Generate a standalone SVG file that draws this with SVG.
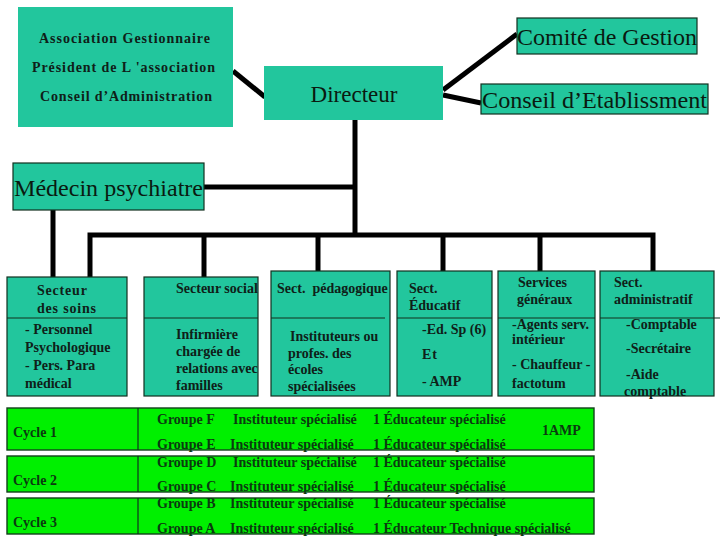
<svg xmlns="http://www.w3.org/2000/svg" width="720" height="540" viewBox="0 0 720 540">
<style>
.teal{fill:#22c69d}
.bord{stroke:#12301f;stroke-width:1.2}
.lime{fill:#00f000;stroke:#12401a;stroke-width:1.4}
.div{stroke:#12301f;stroke-width:1.2;fill:none}
.big{font-family:"Liberation Serif","Times New Roman",serif;font-size:24px;fill:#0a1a10}
.b{font-family:"Liberation Serif","Times New Roman",serif;font-size:14px;font-weight:bold;fill:#0f2018}
.g{font-family:"Liberation Serif","Times New Roman",serif;font-size:14px;font-weight:bold;fill:#0b3a10}
.conn{stroke:#000;stroke-width:5;fill:none;stroke-linejoin:miter}
</style>
<rect width="720" height="540" fill="#fff"/>
<g id="connectors">
<line class="conn" x1="233" y1="71" x2="265" y2="97"/>
<line class="conn" x1="443" y1="90" x2="517" y2="34"/>
<line class="conn" x1="443" y1="95" x2="481" y2="103"/>
<polyline class="conn" points="204,187 355,187"/>
<line class="conn" x1="355" y1="120" x2="355" y2="235"/>
<line class="conn" x1="53" y1="209" x2="53" y2="277"/>
<polyline class="conn" points="90,277 90,235 653,235 653,271"/>
<line class="conn" x1="204" y1="235" x2="204" y2="277"/>
<line class="conn" x1="318" y1="235" x2="318" y2="271"/>
<line class="conn" x1="443" y1="235" x2="443" y2="271"/>
<line class="conn" x1="540" y1="235" x2="540" y2="271"/>
</g>
<g id="association">
<rect class="teal" x="18" y="7" width="215" height="120"/>
<text class="b" x="39" y="43" textLength="171" lengthAdjust="spacing">Association Gestionnaire</text>
<text class="b" x="32" y="72" textLength="183" lengthAdjust="spacing">Président de L 'association</text>
<text class="b" x="40" y="101" textLength="172" lengthAdjust="spacing">Conseil d’Administration</text>
</g>
<g id="directeur">
<rect class="teal" x="264" y="66" width="179" height="54"/>
<text class="big" x="354" y="102" text-anchor="middle" style="font-size:23px">Directeur</text>
</g>
<g id="comite">
<rect class="teal bord" x="517" y="18" width="180" height="36"/>
<text class="big" x="517" y="45" textLength="180" lengthAdjust="spacingAndGlyphs">Comité de Gestion</text>
</g>
<g id="conseil-etab">
<rect class="teal bord" x="481" y="84" width="227" height="30"/>
<text class="big" x="482" y="108" textLength="225" lengthAdjust="spacingAndGlyphs">Conseil d’Etablissment</text>
</g>
<g id="medecin">
<rect class="teal bord" x="13" y="163" width="191" height="47"/>
<text class="big" x="14" y="196" textLength="189" lengthAdjust="spacingAndGlyphs">Médecin psychiatre</text>
</g>
<g id="secteur-soins">
<rect class="teal bord" x="7" y="277" width="120" height="119"/>
<line class="div" x1="7" y1="318" x2="127" y2="318"/>
<text class="b" x="37" y="295" letter-spacing="0.8">Secteur</text>
<text class="b" x="37" y="313" letter-spacing="0.8">des soins</text>
<text class="b" x="25" y="334">- Personnel</text>
<text class="b" x="25" y="352">Psychologique</text>
<text class="b" x="25" y="370">- Pers. Para</text>
<text class="b" x="25" y="388">médical</text>
</g>
<g id="secteur-social">
<rect class="teal bord" x="144" y="277" width="114" height="119"/>
<line class="div" x1="144" y1="318" x2="258" y2="318"/>
<text class="b" x="176" y="293">Secteur social</text>
<text class="b" x="176" y="339">Infirmière</text>
<text class="b" x="176" y="356">chargée de</text>
<text class="b" x="176" y="373">relations avec</text>
<text class="b" x="176" y="390">familles</text>
</g>
<g id="sect-pedagogique">
<rect class="teal bord" x="271" y="271" width="119" height="125"/>
<line class="div" x1="271" y1="318" x2="385" y2="318"/>
<text class="b" x="277" y="293" xml:space="preserve">Sect.  pédagogique</text>
<text class="b" x="290" y="341">Instituteurs ou</text>
<text class="b" x="288" y="358">profes. des</text>
<text class="b" x="288" y="374">écoles</text>
<text class="b" x="288" y="391">spécialisées</text>
</g>
<g id="sect-educatif">
<rect class="teal bord" x="397" y="271" width="95" height="125"/>
<line class="div" x1="397" y1="318" x2="492" y2="318"/>
<text class="b" x="409" y="293">Sect.</text>
<text class="b" x="409" y="310">Éducatif</text>
<text class="b" x="422" y="334">-Ed. Sp (6)</text>
<text class="b" x="422" y="359" letter-spacing="1">Et</text>
<text class="b" x="422" y="386">- AMP</text>
</g>
<g id="services-generaux">
<rect class="teal bord" x="498" y="271" width="97" height="125"/>
<line class="div" x1="498" y1="318" x2="595" y2="318"/>
<text class="b" x="518" y="287">Services</text>
<text class="b" x="517" y="304">généraux</text>
<text class="b" x="512" y="329">-Agents serv.</text>
<text class="b" x="512" y="344">intérieur</text>
<text class="b" x="512" y="369">- Chauffeur -</text>
<text class="b" x="512" y="388">factotum</text>
</g>
<g id="sect-administratif">
<rect class="teal bord" x="600" y="271" width="114" height="125"/>
<line class="div" x1="600" y1="318" x2="720" y2="318"/>
<text class="b" x="614" y="287">Sect.</text>
<text class="b" x="614" y="304">administratif</text>
<text class="b" x="626" y="329">-Comptable</text>
<text class="b" x="626" y="353">-Secrétaire</text>
<text class="b" x="626" y="379">-Aide</text>
<text class="b" x="624" y="396">comptable</text>
</g>
<g id="cycle1">
<rect class="lime" x="7" y="408" width="587" height="42"/>
<line class="div" x1="138" y1="408" x2="138" y2="450"/>
<text class="g" x="13" y="437">Cycle 1</text>
<text class="g" x="157" y="424">Groupe F</text>
<text class="g" x="233" y="424">Instituteur spécialisé</text>
<text class="g" x="373" y="424">1 Éducateur spécialisé</text>
<text class="g" x="542" y="435">1AMP</text>
<text class="g" x="157" y="449">Groupe E</text>
<text class="g" x="230" y="449">Instituteur spécialisé</text>
<text class="g" x="373" y="449">1 Éducateur spécialisé</text>
</g>
<g id="cycle2">
<rect class="lime" x="7" y="456" width="587" height="36"/>
<line class="div" x1="138" y1="456" x2="138" y2="492"/>
<text class="g" x="13" y="485">Cycle 2</text>
<text class="g" x="157" y="467">Groupe D</text>
<text class="g" x="233" y="467">Instituteur spécialisé</text>
<text class="g" x="373" y="467">1 Éducateur spécialisé</text>
<text class="g" x="157" y="491">Groupe C</text>
<text class="g" x="230" y="491">Instituteur spécialisé</text>
<text class="g" x="373" y="491">1 Éducateur spécialisé</text>
</g>
<g id="cycle3">
<rect class="lime" x="7" y="498" width="587" height="36"/>
<line class="div" x1="138" y1="498" x2="138" y2="534"/>
<text class="g" x="13" y="527">Cycle 3</text>
<text class="g" x="157" y="508">Groupe B</text>
<text class="g" x="230" y="508">Instituteur spécialisé</text>
<text class="g" x="373" y="508">1 Éducateur spécialisé</text>
<text class="g" x="157" y="533">Groupe A</text>
<text class="g" x="230" y="533">Instituteur spécialisé</text>
<text class="g" x="373" y="533">1 Éducateur Technique spécialisé</text>
</g>
</svg>
